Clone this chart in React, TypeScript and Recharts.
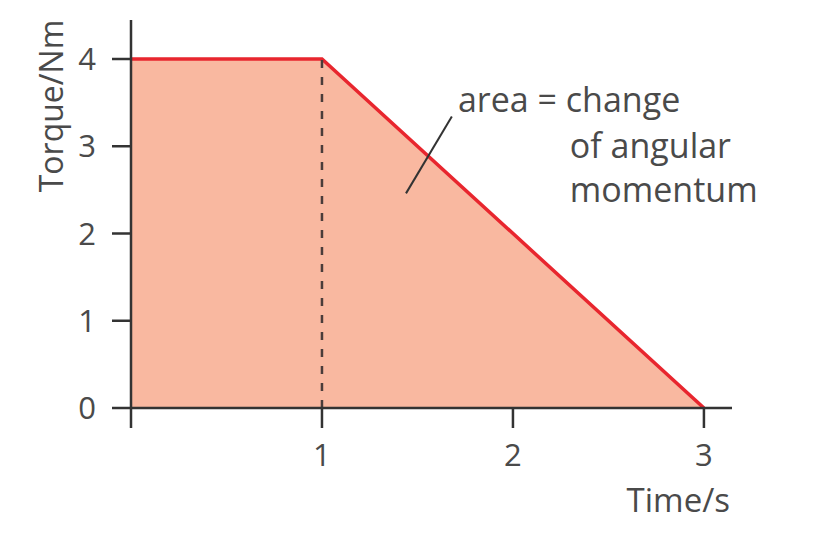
import React from 'react';
import { ComposedChart, Area, XAxis, YAxis, ReferenceLine, ReferenceDot, Label } from 'recharts';

const times = [0, 1, 3];
const torques = [4, 4, 0];
const xTicks = [0, 1, 2, 3];
const yTicks = [0, 1, 2, 3, 4];
const xLabel = 'Time/s';
const yLabel = 'Torque/Nm';
const noteLines = ['area = change', 'of angular', 'momentum'];
const noteX = [1.712, 2.298, 2.298];
const noteY = [3.39, 2.865, 2.361];
const pointer = [{ x: 1.68, y: 3.34 }, { x: 1.44, y: 2.46 }];

const data = times.map((t, i) => ({ t, v: torques[i] }));

const FONT = '"Open Sans", "Noto Sans", sans-serif';
const TXT = '#4a4a4a';
const AX = '#333333';

const NoteText = (text: string) => (props: any) => (
  <text x={props.cx} y={props.cy} fill={TXT} fontSize={34} fontFamily={FONT} style={{ whiteSpace: 'pre' }}>
    {text}
  </text>
);

export default function App() {
  return (
    <div style={{ position: 'absolute', left: 0, top: 0, width: 826, height: 546, background: '#fff' }}>
      <ComposedChart width={826} height={546} data={data} margin={{ top: 20, right: 94, bottom: 108, left: 0 }}>
        <Area
          type="linear"
          dataKey="v"
          stroke="#e8262e"
          strokeWidth={3.5}
          fill="#f9b8a0"
          fillOpacity={1}
          isAnimationActive={false}
          dot={false}
          activeDot={false}
        />
        <ReferenceLine
          segment={[{ x: 1, y: 0 }, { x: 1, y: 4 }]}
          stroke="#4a3c3a"
          strokeWidth={2.5}
          strokeDasharray="8 9"
        />
        <ReferenceLine segment={pointer} stroke={AX} strokeWidth={2} />
        {noteLines.map((s, i) => (
          <ReferenceDot key={i} x={noteX[i]} y={noteY[i]} r={0} shape={NoteText(s)} />
        ))}
        <XAxis
          dataKey="t"
          type="number"
          domain={[0, 3.147]}
          ticks={xTicks}
          allowDataOverflow
          height={30}
          stroke={AX}
          strokeWidth={2.5}
          tickSize={20}
          tickMargin={16}
          tick={{ fill: TXT, fontSize: 31, fontFamily: FONT }}
          tickFormatter={(v: number) => (v === 0 ? '' : String(v))}
        >
          <Label
            content={(p: any) => {
              const vb = p.viewBox;
              return (
                <text x={vb.x + vb.width - 2} y={vb.y + 104} textAnchor="end" fill={TXT} fontSize={33} fontFamily={FONT}>
                  {xLabel}
                </text>
              );
            }}
          />
        </XAxis>
        <YAxis
          type="number"
          domain={[0, 4.447]}
          ticks={yTicks}
          allowDataOverflow
          width={131}
          stroke={AX}
          strokeWidth={2.5}
          tickSize={19}
          tickMargin={16}
          tick={{ fill: TXT, fontSize: 31, fontFamily: FONT }}
        >
          <Label
            content={(p: any) => {
              const vb = p.viewBox;
              const cx = vb.x + 50;
              const cy = vb.y + 86;
              return (
                <text x={cx} y={cy} transform={`rotate(-90 ${cx} ${cy})`} textAnchor="middle" dominantBaseline="central" fill={TXT} fontSize={32} fontFamily={FONT}>
                  {yLabel}
                </text>
              );
            }}
          />
        </YAxis>
      </ComposedChart>
    </div>
  );
}
